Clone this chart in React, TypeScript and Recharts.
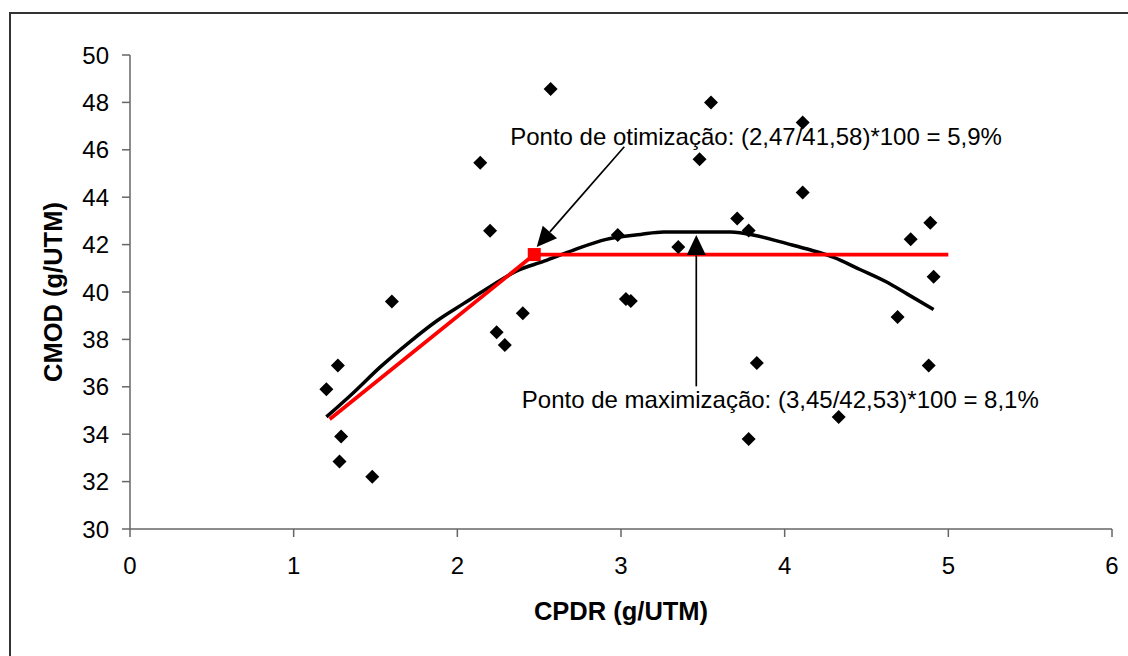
import React from 'react';
import {
  ComposedChart,
  XAxis,
  YAxis,
  Line,
  Scatter,
  ReferenceLine,
  ReferenceDot,
} from 'recharts';

// Observed points (CPDR, CMOD)
const pointX = [1.2, 1.27, 1.29, 1.28, 1.48, 1.6, 2.14, 2.2, 2.24, 2.29, 2.4, 2.57, 2.98, 3.03, 3.06, 3.35, 3.48, 3.55, 3.71, 3.78, 3.83, 3.78, 4.11, 4.11, 4.33, 4.69, 4.77, 4.89, 4.88, 4.91];
const pointY = [35.9, 36.9, 33.9, 32.85, 32.2, 39.6, 45.45, 42.58, 38.3, 37.76, 39.1, 48.57, 42.4, 39.7, 39.62, 41.9, 45.6, 48.0, 43.1, 42.6, 37.0, 33.8, 47.15, 44.2, 34.73, 38.95, 42.23, 42.92, 36.9, 40.64];

// Polynomial trend curve
const curveX = [1.2, 1.36, 1.53, 1.71, 1.88, 2.04, 2.2, 2.36, 2.53, 2.71, 2.91, 3.12, 3.26, 3.45, 3.67, 3.83, 4.01, 4.16, 4.3, 4.46, 4.62, 4.75, 4.91];
const curveY = [34.73, 35.72, 36.84, 37.9, 38.81, 39.52, 40.22, 40.88, 41.3, 41.77, 42.22, 42.43, 42.53, 42.53, 42.53, 42.37, 42.05, 41.77, 41.46, 40.95, 40.43, 39.91, 39.26];

// Linear-plateau model (red)
const redX = [1.22, 2.47, 5.0];
const redY = [34.63, 41.58, 41.58];

// Optimization point
const optX = [2.47];
const optY = [41.58];

const xTicks = [0, 1, 2, 3, 4, 5, 6];
const yTicks = [30, 32, 34, 36, 38, 40, 42, 44, 46, 48, 50];

// Annotations
const optText = 'Ponto de otimização: (2,47/41,58)*100 = 5,9%';
const maxText = 'Ponto de maximização: (3,45/42,53)*100 = 8,1%';
const optArrowFrom = { x: 3.02, y: 46.13 };
const optArrowTo = { x: 2.485, y: 41.9 };
const maxArrowFrom = { x: 3.46, y: 36.02 };
const maxArrowTo = { x: 3.46, y: 42.4 };
const optTextAt = { x: 2.323, y: 46.57 };
const maxTextAt = { x: 2.394, y: 35.46 };

const points = pointX.map((x, i) => ({ x, y: pointY[i] }));
const curve = curveX.map((x, i) => ({ x, y: curveY[i] }));
const red = redX.map((x, i) => ({ x, y: redY[i] }));
const opt = optX.map((x, i) => ({ x, y: optY[i] }));

const FONT = '"Liberation Sans", Arial, Helvetica, sans-serif';
const AXIS = '#666666';

const Diamond = (props: any) => {
  const { cx, cy } = props;
  if (cx == null || cy == null) return null;
  const r = 7;
  return <path d={`M${cx},${cy - r}L${cx + r},${cy}L${cx},${cy + r}L${cx - r},${cy}Z`} fill="#000" />;
};

const Square = (props: any) => {
  const { cx, cy } = props;
  if (cx == null || cy == null) return null;
  const h = 6.5;
  return <rect x={cx - h} y={cy - h} width={2 * h} height={2 * h} fill="#ff0000" />;
};

const ArrowShape = (props: any) => {
  const { x1, y1, x2, y2 } = props;
  if ([x1, y1, x2, y2].some((v) => v == null || isNaN(v))) return null;
  const dx = x2 - x1;
  const dy = y2 - y1;
  const len = Math.sqrt(dx * dx + dy * dy) || 1;
  const ux = dx / len;
  const uy = dy / len;
  const hl = 20;
  const hw = 9.5;
  const bx = x2 - ux * hl;
  const by = y2 - uy * hl;
  const px = -uy;
  const py = ux;
  return (
    <g>
      <line x1={x1} y1={y1} x2={bx} y2={by} stroke="#000" strokeWidth={1.7} />
      <path
        d={`M${x2},${y2}L${bx + px * hw},${by + py * hw}L${bx - px * hw},${by - py * hw}Z`}
        fill="#000"
      />
    </g>
  );
};

const AnnotationLabel = (text: string) => (props: any) => {
  const vb = props.viewBox || {};
  const x = (vb.x ?? 0) + (vb.width ?? 0) / 2;
  const y = (vb.y ?? 0) + (vb.height ?? 0) / 2;
  return (
    <text x={x} y={y + 8.5} fill="#000" fontSize={24} fontFamily={FONT} textAnchor="start">
      {text}
    </text>
  );
};

const XTitle = (props: any) => {
  const vb = props.viewBox || {};
  return (
    <text
      x={vb.x + vb.width / 2}
      y={vb.y + 91}
      textAnchor="middle"
      fontSize={25.5}
      fontWeight="bold"
      fontFamily={FONT}
      fill="#000"
    >
      CPDR (g/UTM)
    </text>
  );
};

const YTitle = (props: any) => {
  const vb = props.viewBox || {};
  const cx = vb.x + 62;
  const cy = vb.y + vb.height / 2;
  return (
    <text
      transform={`translate(${cx},${cy}) rotate(-90)`}
      x={0}
      y={0}
      textAnchor="middle"
      fontSize={25.5}
      fontWeight="bold"
      fontFamily={FONT}
      fill="#000"
    >
      CMOD (g/UTM)
    </text>
  );
};

export default function App() {
  return (
    <div
      style={{
        position: 'absolute',
        left: 0,
        top: 0,
        width: 1128,
        height: 656,
        overflow: 'hidden',
        background: '#fff',
        fontFamily: FONT,
      }}
    >
      <div
        style={{
          position: 'absolute',
          left: 9,
          top: 12,
          width: 1300,
          height: 800,
          borderLeft: '2px solid #333',
          borderTop: '2px solid #333',
        }}
      />
      <div style={{ position: 'absolute', left: 0, top: 0 }}>
        <ComposedChart
          width={1128}
          height={656}
          margin={{ top: 55, right: 16, bottom: 0, left: 0 }}
          style={{ fontFamily: FONT }}
        >
          <XAxis
            type="number"
            dataKey="x"
            domain={[0, 6]}
            ticks={xTicks}
            allowDataOverflow
            height={127}
            tickSize={8}
            tickMargin={20}
            stroke={AXIS}
            strokeWidth={1.5}
            tick={{ fill: '#000', fontSize: 24, fontFamily: FONT }}
            tickLine={{ stroke: AXIS, strokeWidth: 1.5 }}
            axisLine={{ stroke: AXIS, strokeWidth: 1.5 }}
            label={<XTitle />}
          />
          <YAxis
            type="number"
            dataKey="y"
            domain={[30, 50]}
            ticks={yTicks}
            allowDataOverflow
            width={130}
            tickSize={8}
            tickMargin={13}
            stroke={AXIS}
            strokeWidth={1.5}
            tick={{ fill: '#000', fontSize: 24, fontFamily: FONT }}
            tickLine={{ stroke: AXIS, strokeWidth: 1.5 }}
            axisLine={{ stroke: AXIS, strokeWidth: 1.5 }}
            label={<YTitle />}
          />
          <Line
            data={curve}
            dataKey="y"
            type="monotone"
            stroke="#000"
            strokeWidth={3.5}
            dot={false}
            activeDot={false}
            isAnimationActive={false}
          />
          <Line
            data={red}
            dataKey="y"
            type="linear"
            stroke="#ff0000"
            strokeWidth={3.8}
            dot={false}
            activeDot={false}
            isAnimationActive={false}
          />
          <Scatter data={points} dataKey="y" shape={<Diamond />} isAnimationActive={false} />
          <Scatter data={opt} dataKey="y" shape={<Square />} isAnimationActive={false} />
          <ReferenceLine segment={[optArrowFrom, optArrowTo]} shape={<ArrowShape />} />
          <ReferenceLine segment={[maxArrowFrom, maxArrowTo]} shape={<ArrowShape />} />
          <ReferenceDot
            x={optTextAt.x}
            y={optTextAt.y}
            r={0}
            fill="none"
            stroke="none"
            label={AnnotationLabel(optText)}
          />
          <ReferenceDot
            x={maxTextAt.x}
            y={maxTextAt.y}
            r={0}
            fill="none"
            stroke="none"
            label={AnnotationLabel(maxText)}
          />
        </ComposedChart>
      </div>
    </div>
  );
}
